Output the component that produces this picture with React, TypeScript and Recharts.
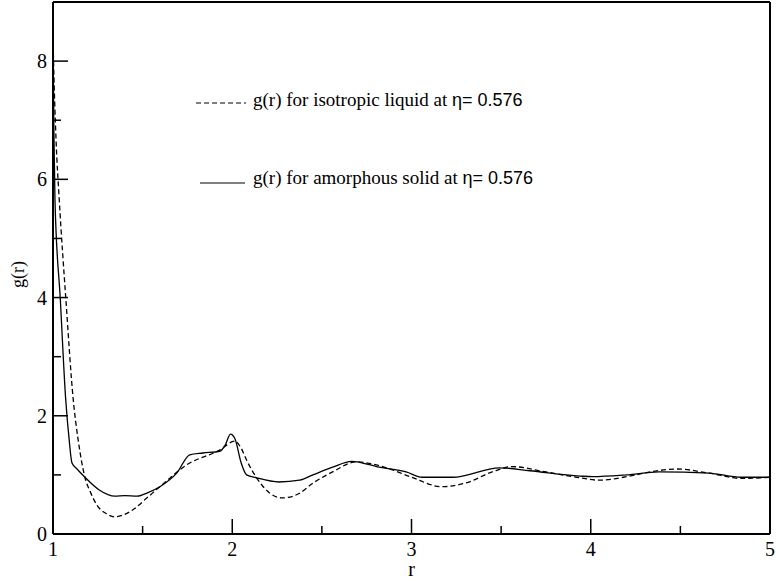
import { LineChart, Line, XAxis, YAxis } from "recharts";

// r values and g(r)
const liquidR = [
  1.0, 1.003, 1.017, 1.035, 1.072, 1.113, 1.14, 1.178, 1.21, 1.245, 1.3, 1.345,
  1.39, 1.446, 1.52, 1.596, 1.746, 1.93, 2.014, 2.05, 2.08, 2.136, 2.21, 2.28,
  2.376, 2.45, 2.56, 2.69, 2.86, 3.0, 3.17, 3.3, 3.45, 3.56, 3.75, 3.94, 4.05,
  4.2, 4.35, 4.48, 4.66, 4.84, 5.0,
];
const liquidG = [
  8.4, 8.0, 6.67, 5.65, 3.96, 2.27, 1.6, 0.96, 0.7, 0.49, 0.34, 0.29, 0.32,
  0.41, 0.6, 0.8, 1.17, 1.42, 1.57, 1.45, 1.25, 0.95, 0.69, 0.61, 0.69, 0.86,
  1.05, 1.22, 1.12, 0.96, 0.8, 0.86, 1.05, 1.14, 1.05, 0.95, 0.91, 0.97, 1.06,
  1.1, 1.03, 0.94, 0.96,
];

const solidR = [
  1.0, 1.005, 1.011, 1.041, 1.071, 1.09, 1.106, 1.134, 1.178, 1.26, 1.345, 1.4,
  1.47, 1.53, 1.596, 1.69, 1.763, 1.836, 1.93, 1.96, 1.99, 2.014, 2.05, 2.08,
  2.136, 2.26, 2.376, 2.45, 2.56, 2.666, 2.82, 2.97, 3.06, 3.23, 3.49, 3.66,
  3.94, 4.01, 4.2, 4.38, 4.66, 4.84, 5.0,
];
const solidG = [
  8.5, 6.8, 5.65, 3.96, 2.27, 1.6, 1.2, 1.1, 0.96, 0.74, 0.64, 0.65, 0.64, 0.7,
  0.8, 1.03, 1.34, 1.37, 1.4, 1.5, 1.69, 1.62, 1.2, 1.0, 0.95, 0.88, 0.91, 1.0,
  1.13, 1.23, 1.13, 1.05, 0.96, 0.96, 1.12, 1.07, 0.98, 0.97, 1.0, 1.05, 1.03,
  0.96, 0.96,
];

const xTicks = [1, 1.5, 2, 2.5, 3, 3.5, 4, 4.5, 5];
const yTicks = [0, 1, 2, 3, 4, 5, 6, 7, 8];

const liquidLabel = "g(r) for isotropic liquid at ";
const solidLabel = "g(r) for amorphous solid at ";
const etaLabel = "η= 0.576";

const liquidData = liquidR.map((r, i) => ({ r, g: liquidG[i] }));
const solidData = solidR.map((r, i) => ({ r, g: solidG[i] }));

const serif = "'Liberation Serif', 'Times New Roman', serif";
const sans = "'Liberation Sans', Arial, sans-serif";

const isMajorX = (v: number) => Number.isInteger(v);
const isMajorY = (v: number) => v % 2 === 0;

// inward tick marks, drawn by hand since recharts only draws them outward
const BottomTick = (props: any) => {
  const { x, y, payload } = props;
  const len = isMajorX(payload.value) ? 15 : 8;
  return (
    <g>
      <path d={`M${x},${y}V${y - len}`} stroke="#000000" strokeWidth={1.5} fill="none" />
      {isMajorX(payload.value) ? (
        <text x={x} y={y + 22} textAnchor="middle" fontFamily={serif} fontSize={20} fill="#000">
          {payload.value}
        </text>
      ) : null}
    </g>
  );
};

const TopTick = (props: any) => {
  const { x, y, payload } = props;
  const len = isMajorX(payload.value) ? 15 : 8;
  return <path d={`M${x},${y}V${y + len}`} stroke="#000000" strokeWidth={1.5} fill="none" />;
};

const LeftTick = (props: any) => {
  const { x, y, payload } = props;
  const len = isMajorY(payload.value) ? 15 : 8;
  return (
    <g>
      <path d={`M${x},${y}H${x + len}`} stroke="#000000" strokeWidth={1.5} fill="none" />
      {isMajorY(payload.value) ? (
        <text x={x - 6} y={y + 7} textAnchor="end" fontFamily={serif} fontSize={20} fill="#000">
          {payload.value}
        </text>
      ) : null}
    </g>
  );
};

const RightTick = (props: any) => {
  const { x, y, payload } = props;
  const len = isMajorY(payload.value) ? 15 : 8;
  return <path d={`M${x},${y}H${x - len}`} stroke="#000000" strokeWidth={1.5} fill="none" />;
};

function LegendBox() {
  return (
    <svg
      width={400}
      height={120}
      style={{ position: "absolute", left: 190, top: 80, overflow: "visible" }}
    >
      <line x1={6} x2={56} y1={23} y2={23} stroke="#000" strokeWidth={1.2} strokeDasharray="5 3" />
      <text x={63} y={26} fontFamily={serif} fontSize={19} fill="#000">
        {liquidLabel}
        <tspan fontFamily={sans} fontSize={18}>{etaLabel}</tspan>
      </text>
      <line x1={10} x2={55} y1={103} y2={103} stroke="#000" strokeWidth={1.2} />
      <text x={63} y={104} fontFamily={serif} fontSize={19} fill="#000">
        {solidLabel}
        <tspan fontFamily={sans} fontSize={18}>{etaLabel}</tspan>
      </text>
    </svg>
  );
}

export default function App() {
  return (
    <div style={{ position: "relative", width: 776, height: 581, background: "#fff" }}>
      <style>{`body{margin:0}`}</style>
      <LineChart width={776} height={581} margin={{ top: 1, right: 5, left: 0, bottom: 0 }}>
        <XAxis
          xAxisId="bottom"
          type="number"
          dataKey="r"
          domain={[1, 5]}
          ticks={xTicks}
          interval={0}
          height={47}
          tickSize={0}
          tickMargin={0}
          tickLine={false}
          axisLine={{ stroke: "#000", strokeWidth: 2 }}
          tick={(p: any) => <BottomTick {...p} />}
          label={{ value: "r", position: "insideBottom", offset: 5, fill: "#000", fontFamily: serif, fontSize: 20 }}
        />
        <XAxis
          xAxisId="top"
          orientation="top"
          type="number"
          dataKey="r"
          domain={[1, 5]}
          ticks={xTicks}
          interval={0}
          height={1}
          tickSize={0}
          tickMargin={0}
          tickLine={false}
          axisLine={{ stroke: "#000", strokeWidth: 2 }}
          tick={(p: any) => <TopTick {...p} />}
        />
        <YAxis
          yAxisId="left"
          type="number"
          domain={[0, 9]}
          ticks={yTicks}
          interval={0}
          width={53}
          tickSize={0}
          tickMargin={0}
          tickLine={false}
          axisLine={{ stroke: "#000", strokeWidth: 2 }}
          tick={(p: any) => <LeftTick {...p} />}
          label={{
            value: "g(r)",
            angle: -90,
            position: "insideLeft",
            offset: 18,
            dy: 20,
            fill: "#000",
            fontFamily: serif,
            fontSize: 18,
          }}
        />
        <YAxis
          yAxisId="right"
          orientation="right"
          type="number"
          domain={[0, 9]}
          ticks={yTicks}
          interval={0}
          width={1}
          tickSize={0}
          tickMargin={0}
          tickLine={false}
          axisLine={{ stroke: "#000", strokeWidth: 2 }}
          tick={(p: any) => <RightTick {...p} />}
        />
        <Line
          xAxisId="bottom"
          yAxisId="left"
          data={liquidData}
          dataKey="g"
          name="liquid"
          type="monotone"
          stroke="#000"
          strokeWidth={1.3}
          strokeDasharray="5 3"
          dot={false}
          activeDot={false}
          isAnimationActive={false}
        />
        <Line
          xAxisId="bottom"
          yAxisId="left"
          data={solidData}
          dataKey="g"
          name="solid"
          type="monotone"
          stroke="#000"
          strokeWidth={1.3}
          dot={false}
          activeDot={false}
          isAnimationActive={false}
        />
      </LineChart>
      <LegendBox />
    </div>
  );
}
